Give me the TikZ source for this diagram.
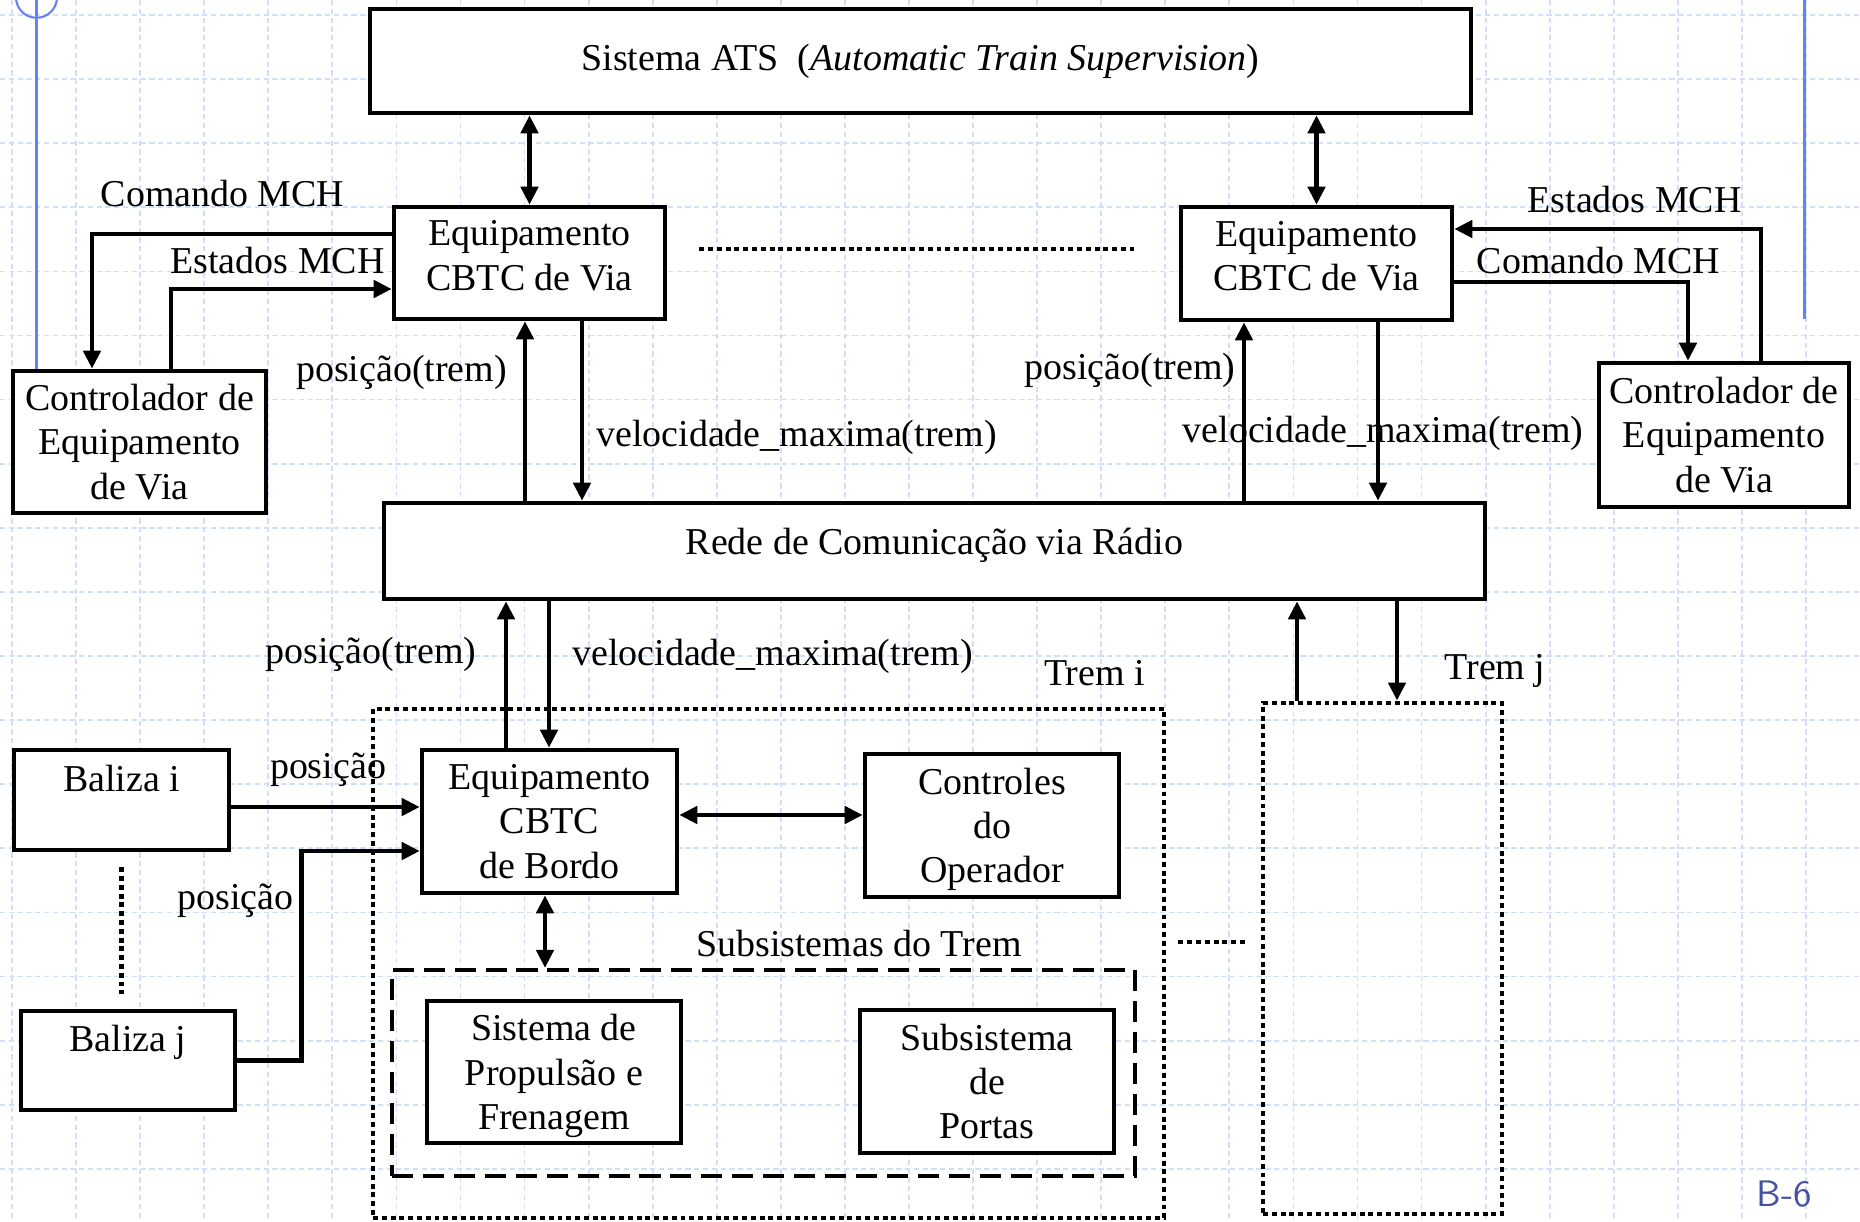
\documentclass[tikz,border=0pt]{standalone}
\usepackage{fontspec}
\setmainfont{Liberation Serif}
\usepackage{tikz}
\usetikzlibrary{arrows.meta}
\definecolor{gridblue}{RGB}{212,221,250}
\definecolor{slideblue}{RGB}{100,130,240}
\definecolor{pageblue}{RGB}{70,80,160}

\begin{document}
\begin{tikzpicture}[font=\fontsize{10.8}{12.6}\selectfont,
  >={Triangle[length=0.18cm,width=0.17cm]},
  every node/.style={inner sep=0pt,align=center},
  box/.style 2 args={draw,fill=white,line width=1.3pt,minimum width=#1cm,minimum height=#2cm},
  dotbox/.style 2 args={draw,line width=1.4pt,dash pattern=on 1.4pt off 1.1pt,minimum width=#1cm,minimum height=#2cm},
  dashbox/.style 2 args={draw,line width=1.2pt,dash pattern=on 6pt off 2.8pt,minimum width=#1cm,minimum height=#2cm},
  dotline/.style={line width=1.4pt,dash pattern=on 1.4pt off 1.1pt},
  gridline/.style={gridblue,line width=0.5pt,dash pattern=on 1.5pt off 1pt},
  link/.style={line width=1.3pt}]
\useasboundingbox (0,0) rectangle (18.6,-12.21);
\foreach \k in {0,...,28} \draw[gridline] ({0.12+0.6407*\k},0) -- ++(0,-12.21);
\foreach \k in {0,...,18} \draw[gridline] (0,{-0.15-0.641*\k}) -- ++(18.6,0);
\draw[slideblue,line width=0.6pt] (0.365,0.027) circle (0.205);
\draw[slideblue,line width=0.6pt] (0.365,0.3) -- (0.365,-3.71);
\draw[slideblue,line width=0.7pt] (18.045,0) -- (18.045,-3.19);
\node[text=pageblue,font=\sffamily\fontsize{10.5}{12}\selectfont] (page) at (17.845,-11.94) {B-6};

\node (ats)[box={11.01}{1.04}] at (9.205,-0.61) {Sistema ATS\ \ (\textit{Automatic Train Supervision})};
\node (cbtcL)[box={2.71}{1.12},text depth=0.15cm] at (5.295,-2.63) {Equipamento\\CBTC de Via};
\node (cbtcR)[box={2.71}{1.13},text depth=0.15cm] at (13.165,-2.635) {Equipamento\\CBTC de Via};
\node (ctrlL)[box={2.53}{1.42}] at (1.395,-4.42) {Controlador de\\Equipamento\\de Via};
\node (ctrlR)[box={2.50}{1.44}] at (17.24,-4.35) {Controlador de\\Equipamento\\de Via};
\node (radio)[box={11.01}{0.96},text depth=0.2cm] at (9.345,-5.51) {Rede de Comunicação via Rádio};
\node (tremI)[dotbox={7.91}{5.09}] at (7.685,-9.635) {};
\node (tremJ)[dotbox={2.39}{5.11}] at (13.825,-9.585) {};
\node (subsis)[dashbox={7.43}{2.06}] at (7.635,-10.73) {};
\node (bordo)[box={2.55}{1.43}] at (5.495,-8.215) {Equipamento\\CBTC\\de Bordo};
\node (ctrlop)[box={2.54}{1.43},text depth=0pt] at (9.92,-8.255) {Controles\\do\\Operador};
\node (propul)[box={2.54}{1.42},text depth=0pt] at (5.54,-10.72) {Sistema de\\Propulsão e\\Frenagem};
\node (portas)[box={2.54}{1.43}] at (9.87,-10.815) {Subsistema\\de\\Portas};
\node (balizaI)[box={2.15}{1.00}] at (1.215,-8.00) {Baliza i\\\mbox{}};
\node (balizaJ)[box={2.14}{0.99}] at (1.28,-10.605) {Baliza j\\\mbox{}};

\node (cmdL) at (2.225,-1.94) {Comando MCH};
\node (estL) at (2.775,-2.61) {Estados MCH};
\node (estR) at (16.345,-2.00) {Estados MCH};
\node (cmdR) at (15.985,-2.61) {Comando MCH};
\node (posL) at (4.015,-3.72) {posição(trem)};
\node (velL) at (7.965,-4.37) {velocidade\_maxima(trem)};
\node (posR) at (11.30,-3.70) {posição(trem)};
\node (velR) at (13.83,-4.33) {velocidade\_maxima(trem)};
\node (posB) at (3.71,-6.54) {posição(trem)};
\node (velB) at (7.725,-6.56) {velocidade\_maxima(trem)};
\node (lblI) at (10.945,-6.73) {Trem i};
\node (lblJ) at (14.95,-6.71) {Trem j};
\node (posBi) at (3.28,-7.70) {posição};
\node (posBj) at (2.355,-9.01) {posição};
\node (lblSub) at (8.59,-9.43) {Subsistemas do Trem};

\draw[<->, link] (ats.south -| cbtcL.north) -- (cbtcL.north);
\draw[<->, link] (ats.south -| cbtcR.north) -- (cbtcR.north);
\draw[dotline] ([shift={(0.32,0.14)}]cbtcL.east) -- ++(4.35,0);
\draw[->, link] ([yshift=0.29cm]cbtcL.west) -| ([xshift=-0.475cm]ctrlL.north);
\draw[->, link] ([xshift=0.315cm]ctrlL.north) |- ([yshift=-0.26cm]cbtcL.west);
\draw[->, link] ([xshift=0.37cm]ctrlR.north) |- ([yshift=0.345cm]cbtcR.east);
\draw[->, link] ([yshift=-0.185cm]cbtcR.east) -| ([xshift=-0.36cm]ctrlR.north);
\draw[->, link] (radio.north -| 5.25,0) -- (cbtcL.south -| 5.25,0);
\draw[->, link] (cbtcL.south -| 5.82,0) -- (radio.north -| 5.82,0);
\draw[->, link] (radio.north -| 12.44,0) -- (cbtcR.south -| 12.44,0);
\draw[->, link] (cbtcR.south -| 13.78,0) -- (radio.north -| 13.78,0);
\draw[->, link] (bordo.north -| 5.06,0) -- (radio.south -| 5.06,0);
\draw[->, link] (radio.south -| 5.49,0) -- (bordo.north -| 5.49,0);
\draw[->, link] (tremJ.north -| 12.97,0) -- (radio.south -| 12.97,0);
\draw[->, link] (radio.south -| 13.97,0) -- (tremJ.north -| 13.97,0);
\draw[<->, link] (bordo.east |- 0,-8.15) -- (ctrlop.west |- 0,-8.15);
\draw[<->, link] (bordo.south -| 5.45,0) -- (subsis.north -| 5.45,0);
\draw[->, link] (balizaI.east |- 0,-8.07) -- (bordo.west |- 0,-8.07);
\draw[->, link] (balizaJ.east) -- ++(0.64,0) |- ([yshift=-0.295cm]bordo.west);
\draw[dotline] ([yshift=-0.15cm]balizaI.south) -- ++(0,-1.27);
\draw[dotline] ([shift={(0.12,0.215)}]tremI.east) -- ++(0.69,0);
\end{tikzpicture}
\end{document}
